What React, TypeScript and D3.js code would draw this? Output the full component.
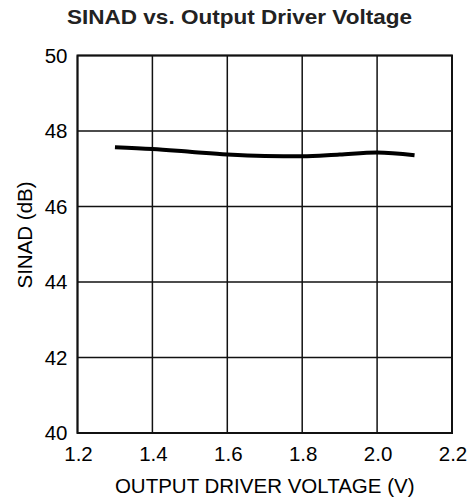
import { useEffect, useRef } from "react";
import * as d3 from "d3";

const voltage = [1.3, 1.4, 1.5, 1.6, 1.7, 1.8, 1.9, 2.0, 2.1];
const sinad = [47.57, 47.52, 47.45, 47.38, 47.34, 47.33, 47.38, 47.43, 47.36];
const xTicks = [1.2, 1.4, 1.6, 1.8, 2.0, 2.2];
const yTicks = [40, 42, 44, 46, 48, 50];

const W = 469;
const H = 502;

export default function App() {
  const svgRef = useRef<SVGSVGElement | null>(null);

  useEffect(() => {
    const svg = d3.select(svgRef.current);
    svg.selectAll("*").remove();

    const margin = { top: 55.5, right: 17, bottom: 69, left: 77.5 };
    const width = W - margin.left - margin.right;
    const height = H - margin.top - margin.bottom;
    const font = "Liberation Sans, Arial, sans-serif";
    const fs = "20.5px";

    const x = d3.scaleLinear().domain([1.2, 2.2]).range([0, width]);
    const y = d3.scaleLinear().domain([40, 50]).range([height, 0]);

    svg.append("text")
      .attr("x", 67)
      .attr("y", 24)
      .attr("textLength", 345)
      .attr("lengthAdjust", "spacingAndGlyphs")
      .style("font-family", font)
      .style("font-weight", "bold")
      .style("font-size", "20.5px")
      .attr("fill", "#222")
      .text("SINAD vs. Output Driver Voltage");

    const g = svg.append("g").attr("transform", `translate(${margin.left},${margin.top})`);

    // grid
    g.selectAll(".vgrid").data(xTicks).join("line")
      .attr("x1", d => x(d)).attr("x2", d => x(d))
      .attr("y1", 0).attr("y2", height)
      .attr("stroke", "#111").attr("stroke-width", 1.5);
    g.selectAll(".hgrid").data(yTicks).join("line")
      .attr("y1", d => y(d)).attr("y2", d => y(d))
      .attr("x1", 0).attr("x2", width)
      .attr("stroke", "#111").attr("stroke-width", 1.5);

    g.append("rect")
      .attr("width", width).attr("height", height)
      .attr("fill", "none").attr("stroke", "#111").attr("stroke-width", 2);

    // tick labels
    g.selectAll(".xt").data(xTicks).join("text")
      .attr("x", d => x(d) + 1).attr("y", height + 27.5)
      .attr("text-anchor", "middle")
      .style("font-family", font).style("font-size", fs)
      .text(d => d.toFixed(1));
    g.selectAll(".yt").data(yTicks).join("text")
      .attr("x", -10).attr("y", d => y(d) + 7.3)
      .attr("text-anchor", "end")
      .style("font-family", font).style("font-size", fs)
      .text(d => d);

    g.append("text")
      .attr("x", 264.7 - margin.left).attr("y", height + 60)
      .attr("text-anchor", "middle")
      .style("font-family", font).style("font-size", fs)
      .text("OUTPUT DRIVER VOLTAGE (V)");

    g.append("text")
      .attr("transform", "rotate(-90)")
      .attr("x", -(235 - margin.top)).attr("y", 31.7 - margin.left)
      .attr("text-anchor", "middle")
      .style("font-family", font).style("font-size", fs)
      .text("SINAD (dB)");

    const line = d3.line<number>()
      .x((_, i) => x(voltage[i]))
      .y(d => y(d))
      .curve(d3.curveMonotoneX);

    g.append("path")
      .attr("d", line(sinad))
      .attr("fill", "none")
      .attr("stroke", "#000")
      .attr("stroke-width", 4);
  }, []);

  return (
    <div style={{ position: "absolute", left: 0, top: 0 }}>
      <svg ref={svgRef} width={W} height={H} style={{ display: "block", background: "#fff" }} />
    </div>
  );
}
